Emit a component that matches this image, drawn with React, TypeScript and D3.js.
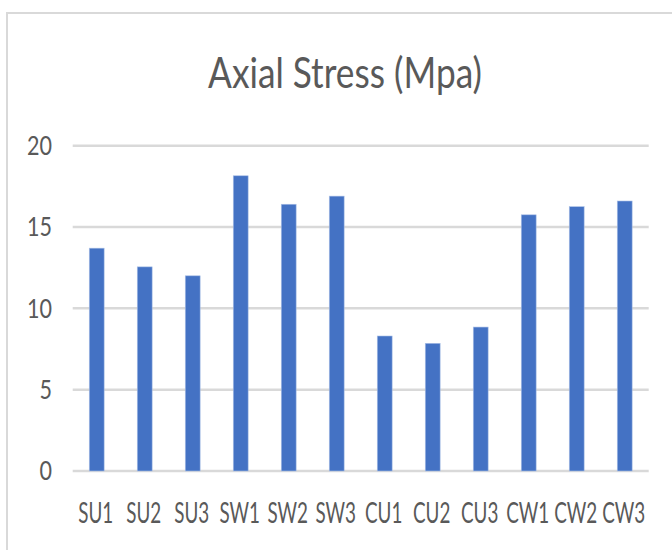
import * as d3 from "d3";
import { useEffect, useRef } from "react";

const categories = ["SU1", "SU2", "SU3", "SW1", "SW2", "SW3", "CU1", "CU2", "CU3", "CW1", "CW2", "CW3"];
const stress = [13.7, 12.55, 12.0, 18.15, 16.4, 16.9, 8.3, 7.85, 8.85, 15.75, 16.25, 16.6];
const yTicks = [0, 5, 10, 15, 20];
const title = "Axial Stress (Mpa)";

const FONT = "Lato, 'Open Sans', sans-serif";

const App = () => {
  const ref = useRef<SVGSVGElement>(null);

  useEffect(() => {
    const svg = d3.select(ref.current);
    const width = 672;
    const height = 550;
    svg.attr("width", width).attr("height", height);

    // narrow the glyphs (Calibri-like) so the first node measures `target` px wide
    const condense = (sel: any, target: number, px: (d: any) => number, py: (d: any) => number) => {
      const w = (sel.node() as SVGTextElement).getComputedTextLength();
      const f = target / w;
      sel.attr("transform", (d: any) => `translate(${px(d)},${py(d)}) scale(${f},1)`);
    };

    // outer chart frame
    svg
      .append("rect")
      .attr("x", 7)
      .attr("y", 13)
      .attr("width", 700)
      .attr("height", 600)
      .attr("fill", "#fff")
      .attr("stroke", "#d9d9d9")
      .attr("stroke-width", 2);

    const x = d3.scaleBand().domain(categories).range([72.7, 648.7]).paddingInner(0.69).paddingOuter(0.345);
    const y = d3.scaleLinear().domain([0, 20]).range([471, 145.7]);

    const t = svg
      .append("text")
      .attr("text-anchor", "middle")
      .attr("font-family", FONT)
      .attr("font-size", 43)
      .attr("fill", "#595959")
      .text(title);
    condense(t, 274, () => 345, () => 88);

    // gridlines
    svg
      .append("g")
      .selectAll("line")
      .data(yTicks)
      .join("line")
      .attr("x1", 72.7)
      .attr("x2", 648.7)
      .attr("y1", (d) => y(d))
      .attr("y2", (d) => y(d))
      .attr("stroke", "#d9d9d9")
      .attr("stroke-width", 2.5);

    const yl = svg
      .append("g")
      .selectAll("text")
      .data(yTicks.slice().reverse())
      .join("text")
      .attr("dy", "0.36em")
      .attr("text-anchor", "end")
      .attr("font-family", FONT)
      .attr("font-size", 26)
      .attr("fill", "#595959")
      .text((d) => d);
    condense(yl, 25, () => 52, (d) => y(d));

    svg
      .append("g")
      .selectAll("rect")
      .data(stress)
      .join("rect")
      .attr("x", (_, i) => x(categories[i])!)
      .attr("width", x.bandwidth())
      .attr("y", (d) => y(d))
      .attr("height", (d) => y(0) - y(d))
      .attr("fill", "#4472c4")
      .attr("stroke", "#a9bfe6")
      .attr("stroke-width", 0.6);

    const xl = svg
      .append("g")
      .selectAll("text")
      .data(categories)
      .join("text")
      .attr("text-anchor", "middle")
      .attr("font-family", FONT)
      .attr("font-size", 29)
      .attr("fill", "#595959")
      .text((d) => d);
    condense(xl, 35, (d) => x(d)! + x.bandwidth() / 2 - 1, () => 523);

    return () => {
      svg.selectAll("*").remove();
    };
  }, []);

  return <svg ref={ref} style={{ position: "absolute", left: 0, top: 0 }}></svg>;
};

export default App;
